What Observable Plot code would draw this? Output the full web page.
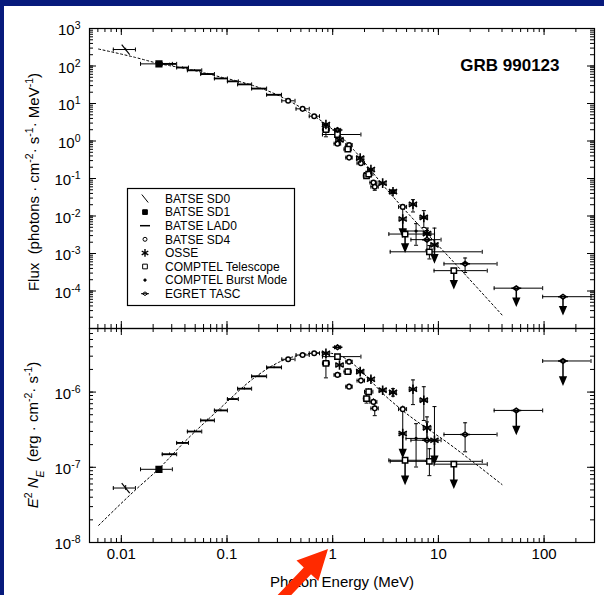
<!DOCTYPE html>
<html>
<head>
<meta charset="utf-8">
<script src="https://cdn.jsdelivr.net/npm/d3@7"></script>
<script src="https://cdn.jsdelivr.net/npm/@observablehq/plot@0.6"></script>
<style>
html,body{margin:0;padding:0;background:#071a7c;}
#wrap{position:relative;width:604px;height:595px;overflow:hidden;background:#071a7c;}
#paper{position:absolute;left:4px;top:6px;right:0;bottom:0;background:#fff;}
#top,#bot{position:absolute;left:0;width:604px;}
#top{top:0;}
#bot{top:328px;}
#top svg,#bot svg{overflow:visible;}
</style>
</head>
<body>
<div id="wrap">
  <div id="paper"></div>
  <div id="top"></div>
  <div id="bot"></div>
</div>
<script>
// ---------- data ----------
const energyTicks = [0.01, 0.1, 1, 10, 100];
const fluxTicks = [1e3, 1e2, 1e1, 1, 1e-1, 1e-2, 1e-3, 1e-4];
const e2nTicks = [1e-6, 1e-7, 1e-8];
const instrumentNames = ["BATSE SD0", "BATSE SD1", "BATSE LAD0", "BATSE SD4", "OSSE",
  "COMPTEL Telescope", "COMPTEL Burst Mode", "EGRET TASC"];

// columns: E (MeV), E low, E high, flux, E^2 N_E, error factor down, error factor up, upper limit
const batseSD0 = [[0.011, 0.0084, 0.0136, 275, 5.3e-8, 1.08, 1.08, 0]];
const batseSD1 = [[0.0227, 0.0152, 0.0304, 114, 9.4e-8, 1.04, 1.04, 0]];
const batseLAD0 = [
  [0.0286, 0.0244, 0.0334, 114, 1.49e-7, 1.04, 1.04, 0],
  [0.038, 0.0334, 0.0432, 91, 2.11e-7, 1.04, 1.04, 0],
  [0.0493, 0.0422, 0.0577, 76.7, 2.99e-7, 1.04, 1.04, 0],
  [0.0655, 0.0564, 0.076, 61, 4.2e-7, 1.04, 1.04, 0],
  [0.0875, 0.076, 0.1009, 46.5, 5.7e-7, 1.04, 1.04, 0],
  [0.1138, 0.1009, 0.128, 38.9, 8.07e-7, 1.04, 1.04, 0],
  [0.1462, 0.126, 0.171, 32.3, 1.11e-6, 1.04, 1.04, 0],
  [0.201, 0.171, 0.237, 25.0, 1.62e-6, 1.04, 1.04, 0],
  [0.279, 0.237, 0.328, 17.1, 2.13e-6, 1.04, 1.04, 0]
];
const batseSD4 = [
  [0.379, 0.33, 0.44, 11.8, 2.73e-6, 1.05, 1.05, 0],
  [0.519, 0.45, 0.60, 7.21, 3.11e-6, 1.05, 1.05, 0],
  [0.668, 0.60, 0.75, 4.58, 3.28e-6, 1.05, 1.05, 0],
  [1.11, 1.03, 1.19, 0.85, 1.69e-6, 1.08, 1.08, 0],
  [1.43, 1.33, 1.53, 0.78, 2.53e-6, 1.06, 1.06, 0],
  [1.43, 1.33, 1.53, 0.361, 1.18e-6, 1.08, 1.08, 0],
  [1.85, 1.70, 2.00, 0.257, 1.42e-6, 1.08, 1.08, 0],
  [2.43, 2.25, 2.62, 0.078, 7.4e-7, 1.1, 1.1, 0],
  [2.5, 2.3, 2.7, 0.0605, 6.07e-7, 1.25, 1.2, 0],
  [4.6, 4.2, 5.0, 0.0175, 5.93e-7, 1.1, 1.1, 0]
];
const osse = [
  [0.863, 0.80, 0.93, 2.75, 3.28e-6, 1.05, 1.05, 0],
  [1.16, 1.07, 1.26, 1.07, 2.29e-6, 1.08, 1.08, 0],
  [1.82, 1.68, 1.97, 0.35, 1.87e-6, 1.1, 1.1, 0],
  [2.30, 2.14, 2.47, 0.174, 1.48e-6, 1.1, 1.1, 0],
  [2.97, 2.75, 3.20, 0.0752, 1.06e-6, 1.1, 1.1, 0],
  [3.72, 3.45, 4.00, 0.0446, 9.9e-7, 1.12, 1.12, 0],
  [4.60, 4.25, 4.95, 0.0083, 2.81e-7, 1, 2.1, 1],
  [5.75, 5.30, 6.20, 0.0205, 1.09e-6, 1.6, 1.33, 0],
  [7.28, 6.70, 7.90, 0.0092, 7.8e-7, 1.86, 1.51, 0],
  [7.80, 7.20, 8.50, 0.0034, 3.34e-7, 1.4, 1.4, 0],
  [9.18, 8.50, 9.90, 0.0017, 2.29e-7, 1, 2.8, 1]
];
const comptelTelescope = [
  [0.863, 0.80, 0.93, 2.02, 2.41e-6, 1.56, 1.37, 0],
  [1.11, 0.80, 1.85, 1.49, 2.96e-6, 1.06, 1.06, 0],
  [1.39, 1.28, 1.50, 0.605, 1.87e-6, 1.1, 1.1, 0],
  [2.09, 1.95, 2.25, 0.118, 8.2e-7, 1.15, 1.15, 0],
  [2.19, 2.00, 2.40, 0.1315, 1.01e-6, 1.1, 1.1, 0],
  [4.84, 3.40, 9.20, 0.0033, 1.24e-7, 1, 1, 1],
  [8.22, 3.50, 26.0, 0.00111, 1.2e-7, 1.55, 1.47, 0],
  [14.0, 9.10, 29.0, 3.49e-4, 1.1e-7, 1, 1, 1]
];
const comptelBurst = [[6.15, 4.94, 7.94, 0.00398, 2.42e-7, 2.4, 1.57, 0]];
const egretTasc = [
  [1.11, 1.04, 1.19, 1.98, 3.94e-6, 1.07, 1.07, 0],
  [7.8, 5.5, 10.6, 0.00234, 2.29e-7, 1.9, 1.75, 0],
  [17.9, 11.3, 35.9, 5.3e-4, 2.73e-7, 1.7, 1.43, 0],
  [54.6, 33.7, 97, 1.19e-4, 5.7e-7, 1, 1, 1],
  [151, 97, 278, 7.05e-5, 2.59e-6, 1, 1, 1]
];
// Band-function fit (dashed)
const modelEnergy = [0.0061, 0.0136, 0.0227, 0.0406, 0.0841, 0.174, 0.311, 0.519, 0.83, 1.2, 1.6, 2.2, 3.0, 4.44, 13.2, 40];
const modelFlux = [283, 169, 116, 85.2, 52.1, 30.5, 16.1, 7.30, 3.03, 1.30, 0.561, 0.193, 0.0659, 0.0187, 7.0e-4, 2.3e-5];
const modelE2N = [1.69e-8, 5.0e-8, 9.6e-8, 2.25e-7, 5.9e-7, 1.48e-6, 2.5e-6, 3.15e-6, 3.34e-6, 3.0e-6, 2.3e-6, 1.5e-6, 9.5e-7, 5.9e-7, 1.96e-7, 5.9e-8];

// ---------- build ----------
const FONT = '"Liberation Sans", Arial, Helvetica, sans-serif';
const cols = ["E", "Elo", "Ehi", "flux", "e2n", "dn", "up", "ul"];
const toObjs = (rows, inst) => rows.map(r => {
  const o = {inst}; cols.forEach((c, i) => o[c] = r[i]); return o;
});
const pts = {
  sd0: toObjs(batseSD0, "sd0"), sd1: toObjs(batseSD1, "sd1"), lad0: toObjs(batseLAD0, "lad0"),
  sd4: toObjs(batseSD4, "sd4"), osse: toObjs(osse, "osse"), tel: toObjs(comptelTelescope, "tel"),
  burst: toObjs(comptelBurst, "burst"), egret: toObjs(egretTasc, "egret")
};
const all = [].concat(...Object.values(pts));
const model = modelEnergy.map((E, i) => ({E, flux: modelFlux[i], e2n: modelE2N[i]}));

const rad = s => Math.sqrt(s / Math.PI);
const sym = {
  hcap: {draw(c, s) { const w = rad(s); c.moveTo(-w, 0); c.lineTo(w, 0); }},
  vcap: {draw(c, s) { const w = rad(s); c.moveTo(0, -w); c.lineTo(0, w); }},
  slash: {draw(c, s) { const w = rad(s); c.moveTo(-w * 0.8, -w); c.lineTo(w * 0.8, w); }},
  egret: {draw(c, s) { const w = rad(s); c.moveTo(-w * 1.5, 0); c.lineTo(w * 1.5, 0);
    c.moveTo(-w, 0); c.lineTo(0, -w * 0.7); c.lineTo(w, 0); c.lineTo(0, w * 0.7); c.closePath(); }},
  ul: L => ({draw(c) { c.moveTo(0, 0); c.lineTo(0, L - 6); c.moveTo(-3, L - 7); c.lineTo(3, L - 7); c.lineTo(0, L); c.closePath(); }})
};

const W = 604 - 89 - 10;
const xAll = d3.scaleLog().domain([0.005, 300]).ticks();

function frameTicks(H, yDomain, yMajor) {
  const yAll = d3.scaleLog().domain(yDomain).ticks();
  return [
    Plot.tickX(xAll, {x: d => d, insetTop: H - 4, stroke: "black"}),
    Plot.tickX(xAll, {x: d => d, insetBottom: H - 4, stroke: "black"}),
    Plot.tickX(energyTicks, {x: d => d, insetTop: H - 7, stroke: "black"}),
    Plot.tickX(energyTicks, {x: d => d, insetBottom: H - 7, stroke: "black"}),
    Plot.tickY(yAll, {y: d => d, insetRight: W - 4, stroke: "black"}),
    Plot.tickY(yAll, {y: d => d, insetLeft: W - 4, stroke: "black"}),
    Plot.tickY(yMajor, {y: d => d, insetRight: W - 7, stroke: "black"}),
    Plot.tickY(yMajor, {y: d => d, insetLeft: W - 7, stroke: "black"}),
    Plot.frame({stroke: "black", strokeWidth: 1.2})
  ];
}

function dataMarks(k, ulLen) {
  const vErr = all.filter(d => d.dn > 1 || d.up > 1);
  const lo = d => d[k] / d.dn, hi = d => d[k] * d.up;
  const base = {stroke: "black", fill: "none", strokeWidth: 1};
  return [
    Plot.line(model, {x: "E", y: k, stroke: "black", strokeWidth: 1, strokeDasharray: "2,2.5", curve: "monotone-x"}),
    Plot.ruleY(all, {y: k, x1: "Elo", x2: "Ehi", stroke: "black", strokeWidth: 1}),
    Plot.ruleY(pts.lad0, {y: k, x1: "Elo", x2: "Ehi", stroke: "black", strokeWidth: 1.8}),
    Plot.dot(all, {x: "Elo", y: k, symbol: sym.vcap, r: 2, ...base}),
    Plot.dot(all, {x: "Ehi", y: k, symbol: sym.vcap, r: 2, ...base}),
    Plot.ruleX(vErr, {x: "E", y1: lo, y2: hi, stroke: "black", strokeWidth: 1}),
    Plot.dot(vErr.filter(d => d.dn > 1.1), {x: "E", y: lo, symbol: sym.hcap, r: 2, ...base}),
    Plot.dot(vErr.filter(d => d.up > 1.1), {x: "E", y: hi, symbol: sym.hcap, r: 2, ...base}),
    Plot.dot(all.filter(d => d.ul), {x: "E", y: k, symbol: sym.ul(ulLen), r: 1, stroke: "black", fill: "black"}),
    Plot.dot(pts.sd0, {x: "E", y: k, symbol: sym.slash, r: 5, stroke: "black", fill: "none", strokeWidth: 1.2}),
    Plot.dot(pts.sd1, {x: "E", y: k, symbol: "square", r: 3.2, stroke: "black", fill: "black"}),
    Plot.dot(pts.sd4, {x: "E", y: k, symbol: "circle", r: 2.3, stroke: "black", fill: "white"}),
    Plot.dot(pts.tel, {x: "E", y: k, symbol: "square", r: 3, stroke: "black", fill: "white"}),
    Plot.dot(pts.osse, {x: "E", y: k, symbol: "asterisk", r: 4.5, stroke: "black", strokeWidth: 1.6}),
    Plot.dot(pts.burst, {x: "E", y: k, r: 1.6, fill: "black"}),
    Plot.dot(pts.egret, {x: "E", y: k, symbol: sym.egret, r: 3.3, stroke: "black", fill: "white"})
  ];
}

const expLabel = d => "10^" + Math.round(Math.log10(d));
const style = {background: "transparent", fontFamily: FONT, fontSize: "15px", color: "black"};

const topPlot = Plot.plot({
  width: 604, height: 328, marginLeft: 89, marginRight: 10, marginTop: 28, marginBottom: 0,
  x: {type: "log", domain: [0.005, 300], axis: null},
  y: {type: "log", domain: [1e-5, 1e3], axis: null},
  style,
  marks: [
    ...dataMarks("flux", 17),
    ...frameTicks(300, [1e-5, 1e3], fluxTicks),
    Plot.text(fluxTicks, {y: d => d, text: expLabel, frameAnchor: "left", textAnchor: "end", dx: -9, dy: 2, fontSize: 15}),
    Plot.text(["GRB 990123"], {frameAnchor: "top-right", textAnchor: "end", dx: -35, dy: 30, fontSize: 17, fontWeight: "bold"})
  ]
});

const botPlot = Plot.plot({
  width: 604, height: 267, marginLeft: 89, marginRight: 10, marginTop: 0, marginBottom: 53,
  x: {type: "log", domain: [0.005, 300], axis: null},
  y: {type: "log", domain: [1e-8, 7e-6], axis: null},
  style,
  marks: [
    ...dataMarks("e2n", 23),
    ...frameTicks(214, [1e-8, 7e-6], e2nTicks),
    Plot.text(e2nTicks, {y: d => d, text: expLabel, frameAnchor: "left", textAnchor: "end", dx: -9, dy: 2, fontSize: 15}),
    Plot.text(energyTicks, {x: d => d, text: d => String(d), frameAnchor: "bottom", lineAnchor: "top", dy: 6, fontSize: 15}),
    Plot.text(["Photon Energy (MeV)"], {frameAnchor: "bottom", lineAnchor: "middle", dy: 40, fontSize: 15})
  ]
});

document.getElementById("top").append(topPlot);
document.getElementById("bot").append(botPlot);

// superscript exponents in tick labels
function supify(svg) {
  d3.select(svg).selectAll("text").each(function () {
    const m = /^10\^(-?\d+)$/.exec(this.textContent);
    if (m) {
      this.textContent = "10";
      d3.select(this).append("tspan").attr("baseline-shift", "super").attr("font-size", "10.5px").text(m[1]);
    }
  });
}
supify(topPlot); supify(botPlot);

// y-axis titles
function title(svg, cx, cy, parts) {
  const t = d3.select(svg).append("text")
    .attr("transform", `translate(${cx},${cy}) rotate(-90)`)
    .attr("text-anchor", "middle").attr("font-family", FONT).attr("font-size", 15).attr("fill", "black");
  parts.forEach(p => {
    const s = t.append("tspan").text(p.t);
    if (p.sup) s.attr("baseline-shift", "super").attr("font-size", 10.5);
    if (p.sub) s.attr("baseline-shift", "sub").attr("font-size", 10.5);
    if (p.it) s.attr("font-style", "italic");
  });
}
title(topPlot, 39, 182, [
  {t: "Flux  (photons · cm"}, {t: "-2", sup: 1}, {t: "· s"}, {t: "-1", sup: 1}, {t: "· MeV"}, {t: "-1", sup: 1}, {t: ")"}
]);
title(botPlot, 38, 107, [
  {t: "E", it: 1}, {t: "2", sup: 1}, {t: " "}, {t: "N", it: 1}, {t: "E", sub: 1, it: 1},
  {t: "  (erg · cm"}, {t: "-2", sup: 1}, {t: "· s"}, {t: "-1", sup: 1}, {t: ")"}
]);

// legend
const lg = d3.select(topPlot).append("g").attr("font-family", FONT).attr("font-size", 12).attr("text-anchor", "start");
lg.append("rect").attr("x", 127.5).attr("y", 188.5).attr("width", 167).attr("height", 117)
  .attr("fill", "white").attr("stroke", "black").attr("stroke-width", 1.2);
const legendSyms = [
  {type: sym.slash, size: Math.PI * 16, fill: "none"},
  {type: d3.symbolSquare, size: 22, fill: "black"},
  null,
  {type: d3.symbolCircle, size: Math.PI * 4, fill: "white"},
  {type: d3.symbolAsterisk, size: 40, fill: "none", sw: 1.4},
  {type: d3.symbolSquare, size: 22, fill: "white"},
  {type: d3.symbolCircle, size: Math.PI * 1.4, fill: "black"},
  {type: sym.egret, size: Math.PI * 7, fill: "white"}
];
instrumentNames.forEach((name, i) => {
  const cy = 198.5 + i * 13.6;
  lg.append("text").attr("x", 165).attr("y", cy + 4.3).attr("fill", "black").attr("text-anchor", "start")
    .attr("textLength", null).text(name);
  const s = legendSyms[i];
  if (!s) {
    lg.append("line").attr("x1", 140).attr("x2", 150).attr("y1", cy).attr("y2", cy).attr("stroke", "black").attr("stroke-width", 1.5);
  } else {
    lg.append("path").attr("transform", `translate(145,${cy})`).attr("d", d3.symbol(s.type, s.size)())
      .attr("fill", s.fill).attr("stroke", "black").attr("stroke-width", s.sw || 1);
  }
});

// red pointer arrow (slide annotation), drawn on top of the lower panel (page y - 328)
d3.select(botPlot).append("polygon").attr("fill", "#ff2a00")
  .attr("transform", "translate(0,-328)")
  .attr("points", "328,549 318.3,581.1 311,574.2 278.6,608.4 271.4,601.6 303.8,567.4 296.5,560.5");
</script>
</body>
</html>
